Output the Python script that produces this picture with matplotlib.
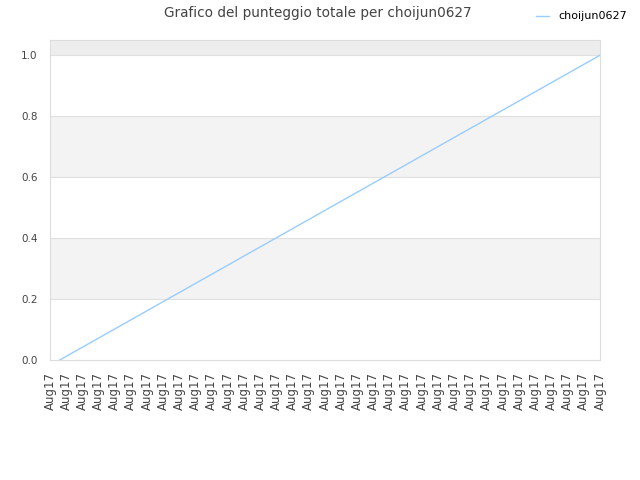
import matplotlib
matplotlib.use("Agg")
import matplotlib.pyplot as plt

# dati del grafico
player = "choijun0627"
tick_labels = ["Aug17"] * 35
x_points = [0.6, 34]
punteggi = [0.0, 1.0]
y_ticks = [0.0, 0.2, 0.4, 0.6, 0.8, 1.0]

fig = plt.figure(figsize=(6.4, 4.8), dpi=100)
ax = fig.add_axes([50/640, 120/480, 550/640, 320/480])

# bande di sfondo
ax.axhspan(0.2, 0.4, color="#f3f3f3", zorder=0, lw=0)
ax.axhspan(0.6, 0.8, color="#f3f3f3", zorder=0, lw=0)
ax.axhspan(1.0, 1.05, color="#ededed", zorder=0, lw=0)
for y in y_ticks[1:]:
    ax.axhline(y, color="#e0e0e0", lw=0.8, zorder=1)

ax.plot(x_points, punteggi, color="#99ccff", lw=1, label=player, zorder=3)

ax.set_xlim(0, 34)
ax.set_ylim(0, 1.05)
ax.set_xticks(range(len(tick_labels)))
ax.set_xticklabels(tick_labels, rotation=90, fontsize=8.5, color="#444444")
ax.set_yticks(y_ticks)
ax.set_yticklabels(["%.1f" % v for v in y_ticks], fontsize=7.5, color="#444444")
ax.tick_params(axis="x", length=0, pad=9)
ax.tick_params(axis="y", length=0, pad=9)
for s in ax.spines.values():
    s.set_color("#dddddd")

fig.suptitle("Grafico del punteggio totale per " + player, x=0.497, y=0.987,
             fontsize=9.8, color="#444444")
fig.legend(loc="upper right", bbox_to_anchor=(0.995, 0.997), frameon=False,
           fontsize=8, handlelength=1.2)

fig.savefig("out.png", dpi=100)
